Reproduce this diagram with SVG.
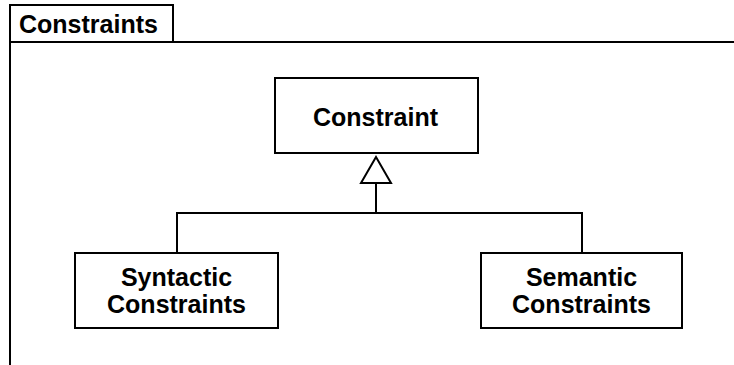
<svg xmlns="http://www.w3.org/2000/svg" width="734" height="365" viewBox="0 0 734 365">
<style>
.box{fill:#fff;stroke:#000;stroke-width:2}
.ln{fill:none;stroke:#000;stroke-width:2}
text{font-family:"Liberation Sans",Arial,sans-serif;font-weight:bold;font-size:25px;fill:#000}
.c{text-anchor:middle}
</style>
<rect width="734" height="365" fill="#fff"/>
<g id="frame">
<path class="ln" d="M10,365 V5 H173 V42 M10,42 H734"/>
<text x="19" y="33">Constraints</text>
</g>
<g id="connectors">
<path class="ln" d="M376,183 V213 M177,253 V213 H582 V253"/>
<polygon class="box" points="376,157 361,183 391,183"/>
</g>
<g id="constraint">
<rect class="box" x="275" y="78" width="203" height="75"/>
<text class="c" x="375.5" y="126">Constraint</text>
</g>
<g id="syntactic">
<rect class="box" x="75" y="253" width="203" height="75"/>
<text class="c" x="176.5" y="286">Syntactic</text>
<text class="c" x="176.5" y="313">Constraints</text>
</g>
<g id="semantic">
<rect class="box" x="481" y="253" width="201" height="75"/>
<text class="c" x="581.5" y="286">Semantic</text>
<text class="c" x="581.5" y="313">Constraints</text>
</g>
</svg>
